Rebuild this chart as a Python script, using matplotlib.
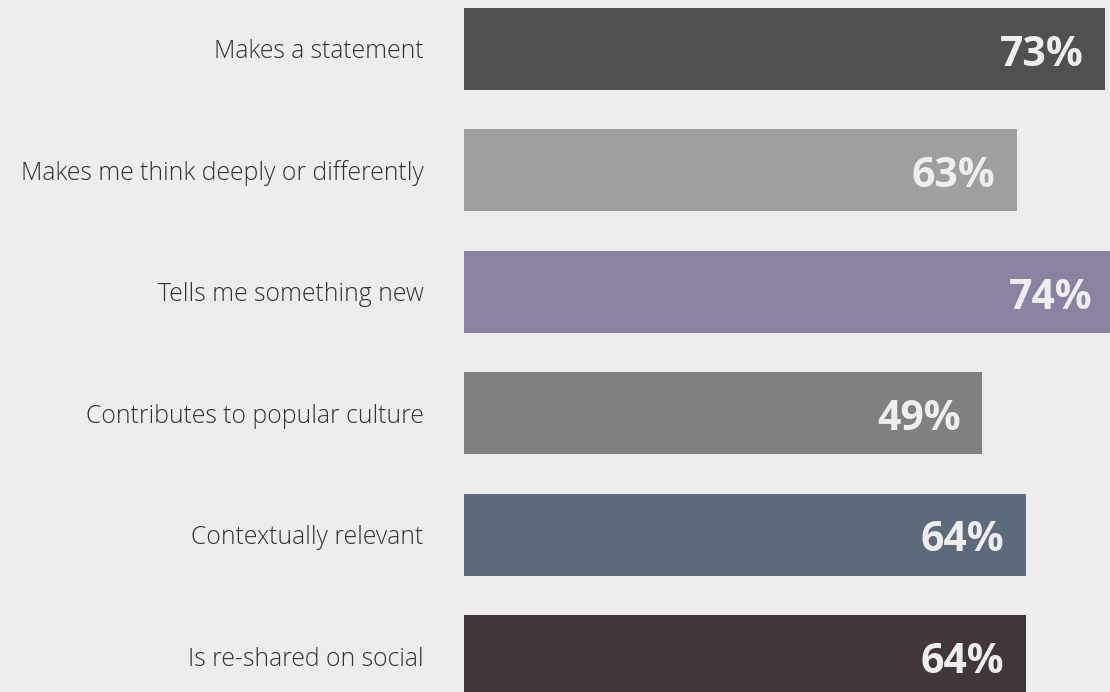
import matplotlib.pyplot as plt

# Categories and values as shown in the picture
categories = [
    "Makes a statement",
    "Makes me think deeply or differently",
    "Tells me something new",
    "Contributes to popular culture",
    "Contextually relevant",
    "Is re-shared on social",
]
pct_labels = ["73%", "63%", "74%", "49%", "64%", "64%"]
# bar lengths as drawn (the 49% bar is drawn longer than its label)
bar_values = [73, 63, 74, 59, 64, 64]
bar_colors = ["#505050", "#9f9f9f", "#8a82a0", "#808080", "#5c6a7c", "#40363b"]

bg = "#ededed"

fig = plt.figure(figsize=(11.10, 6.92), dpi=100, facecolor=bg)
# axes spans from bar start to right edge, full height
ax = fig.add_axes([464 / 1110, 0, 646 / 1110, 1])
ax.set_facecolor(bg)

positions = list(range(len(categories)))
ax.barh(positions, bar_values, height=0.675, color=bar_colors, left=0)

ax.set_xlim(0, 646 / 8.78)
ax.set_ylim((692 - 49) / 121.4, -49 / 121.4)

ax.set_yticks(positions)
ax.set_yticklabels(categories, fontsize=17.8, color="#333333",
                   fontfamily="Open Sans", fontweight="light")
ax.tick_params(axis="y", length=0, pad=29)
ax.set_xticks([])
for s in ax.spines.values():
    s.set_visible(False)

# value labels inside the bar end
for y, v, lab in zip(positions, bar_values, pct_labels):
    ax.annotate(lab, xy=(v, y), xytext=(-15.5, -4.5), textcoords="offset points",
                ha="right", va="center", fontsize=29.5, fontweight="bold",
                fontfamily="Open Sans", color="#eeeeee", annotation_clip=False)

fig.savefig("out.png", dpi=100, facecolor=bg)
